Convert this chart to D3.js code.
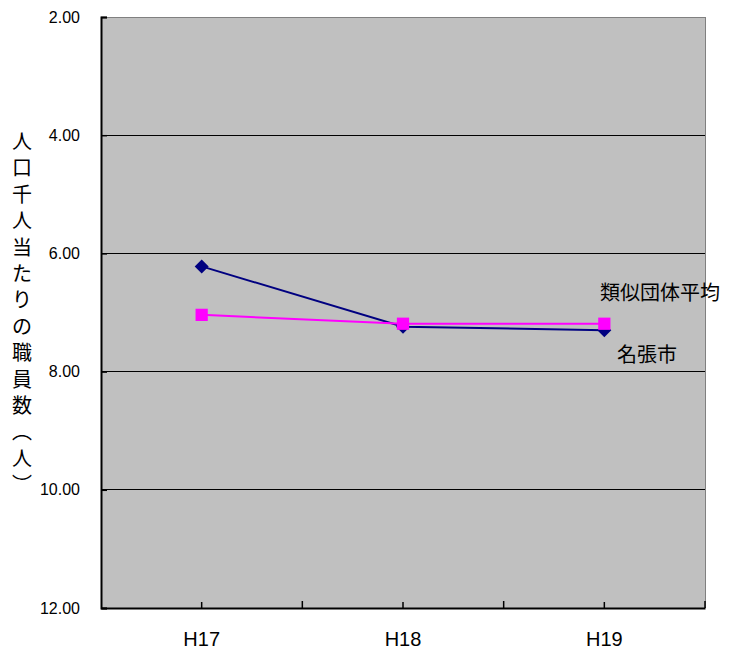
<!DOCTYPE html>
<html>
<head>
<meta charset="utf-8">
<script src="https://cdn.jsdelivr.net/npm/d3@7"></script>
<style>
  html, body { margin: 0; padding: 0; background: #ffffff; }
  svg { display: block; }
</style>
</head>
<body>
<svg id="chart" width="735" height="655"></svg>
<script>
// Staff per 1,000 residents, Nabari City vs. average of similar municipalities
const categories = ["H17", "H18", "H19"];
const nabari = [6.22, 7.24, 7.30];          // 名張市
const similarAvg = [7.04, 7.19, 7.19];      // 類似団体平均
const yTicks = [2, 4, 6, 8, 10, 12];
const yTitleChars = ["人","口","千","人","当","た","り","の","職","員","数","︵","人","︶"];

const svg = d3.select("#chart");
const plotLeft = 101, plotRight = 705, plotTop = 17, plotBottom = 608;
const jpFont = "'Noto Sans CJK JP', 'Noto Sans', sans-serif";
const numFont = "'Liberation Sans', Arial, sans-serif";

const x = d3.scaleBand().domain(categories).range([plotLeft, plotRight]).padding(0);
const cx = d => x(d) + x.bandwidth() / 2;
const y = d3.scaleLinear().domain([2, 12]).range([plotTop, plotBottom]);

// plot background
svg.append("rect")
  .attr("x", plotLeft).attr("y", plotTop)
  .attr("width", plotRight - plotLeft).attr("height", plotBottom - plotTop)
  .attr("fill", "#c0c0c0");

// gridlines
svg.append("g").selectAll("line")
  .data(yTicks.filter(v => v > 2 && v < 12))
  .join("line")
  .attr("x1", plotLeft).attr("x2", plotRight)
  .attr("y1", d => y(d)).attr("y2", d => y(d))
  .attr("stroke", "#000").attr("stroke-width", 1)
  .attr("shape-rendering", "crispEdges");

// top and right frame
svg.append("path")
  .attr("d", `M${plotLeft},${plotTop}H${plotRight}V${plotBottom}`)
  .attr("fill", "none").attr("stroke", "#808080").attr("stroke-width", 1)
  .attr("shape-rendering", "crispEdges");

// y axis
const yAxis = svg.append("g")
  .attr("transform", `translate(${plotLeft},0)`)
  .call(d3.axisLeft(y).tickValues(yTicks).tickFormat(d3.format(".2f"))
    .tickSize(-6).tickPadding(21));
yAxis.select(".domain").attr("stroke", "#000").attr("stroke-width", 2);
yAxis.selectAll(".tick line").attr("stroke", "#000").attr("stroke-width", 1.5);
yAxis.selectAll("text").attr("font-family", numFont).attr("font-size", 16).attr("fill", "#000");

// x axis (ticks at category centres)
const xAxis = svg.append("g")
  .attr("transform", `translate(0,${plotBottom})`)
  .call(d3.axisBottom(x).tickSizeInner(-6).tickSizeOuter(0).tickPadding(24));
xAxis.select(".domain").attr("stroke", "#000").attr("stroke-width", 2);
xAxis.selectAll(".tick line").attr("stroke", "#000").attr("stroke-width", 1.5);
xAxis.selectAll("text").attr("font-family", numFont).attr("font-size", 20).attr("fill", "#000");

// extra ticks at category boundaries
svg.append("g").selectAll("line")
  .data(categories.slice(1).map(c => x(c)).concat([plotRight]))
  .join("line")
  .attr("x1", d => d).attr("x2", d => d)
  .attr("y1", plotBottom).attr("y2", plotBottom - 7)
  .attr("stroke", "#000").attr("stroke-width", 1.5);

// series
const line = d3.line().x((d, i) => cx(categories[i])).y(d => y(d));

function drawSeries(values, color, symbolType, size, rotate) {
  svg.append("path")
    .datum(values)
    .attr("d", line)
    .attr("fill", "none")
    .attr("stroke", color)
    .attr("stroke-width", 2);
  svg.append("g").selectAll("path")
    .data(values)
    .join("path")
    .attr("d", d3.symbol().type(symbolType).size(size))
    .attr("transform", (d, i) => `translate(${cx(categories[i])},${y(d)}) rotate(${rotate})`)
    .attr("fill", color);
}
drawSeries(nabari, "#000080", d3.symbolSquare, 98, 45);
drawSeries(similarAvg, "#ff00ff", d3.symbolSquare, 150, 0);

// series labels
svg.append("text")
  .attr("x", 600).attr("y", 300)
  .attr("font-family", jpFont).attr("font-size", 20).attr("fill", "#000")
  .text("類似団体平均");
svg.append("text")
  .attr("x", 617).attr("y", 362)
  .attr("font-family", jpFont).attr("font-size", 20).attr("fill", "#000")
  .text("名張市");

// vertical y-axis title
svg.append("g").selectAll("text")
  .data(yTitleChars)
  .join("text")
  .attr("x", 22)
  .attr("y", (d, i) => 142 + i * 26.4)
  .attr("dy", "0.35em")
  .attr("text-anchor", "middle")
  .attr("font-family", jpFont).attr("font-size", 20).attr("fill", "#000")
  .text(d => d);
</script>
</body>
</html>
